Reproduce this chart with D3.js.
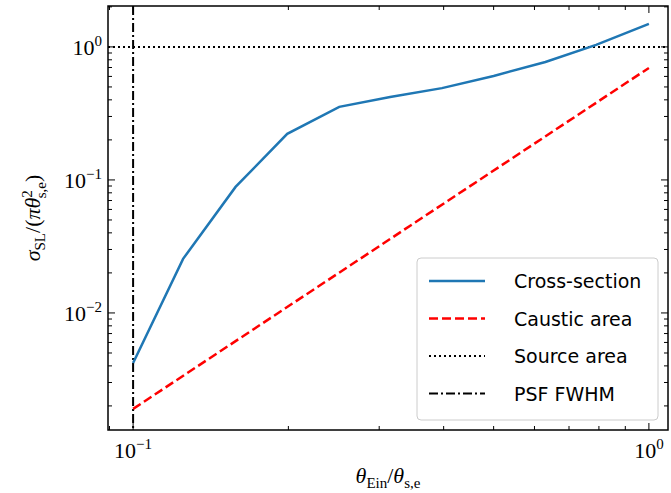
<!DOCTYPE html>
<html><head><meta charset="utf-8">
<script src="https://cdn.jsdelivr.net/npm/d3@7"></script>
<style>body{margin:0;background:#fff}</style>
</head><body><div id="chart"></div>
<script>
const width = 671, height = 493
const margin = { left: 108, right: 3, top: 6, bottom: 63 }
const crossX = [0.1, 0.125, 0.158, 0.199, 0.251, 0.315, 0.397, 0.5, 0.63, 0.79, 1.0]
const crossY = [0.0042, 0.0255, 0.0886, 0.222, 0.354, 0.42, 0.49, 0.605, 0.77, 1.035, 1.49]
const causticX = [0.1, 1.0]
const causticY = [0.0019, 0.695]
const sourceArea = 1.0
const psfFwhm = 0.1
const legendLabels = ["Cross-section", "Caustic area", "Source area", "PSF FWHM"]

const x = d3.scaleLog([0.0894, 1.089], [margin.left, width - margin.right])
const y = d3.scaleLog([10 ** -2.88, 2.03], [height - margin.bottom, margin.top])

const svg = d3.select("#chart").append("svg").attr("width", width).attr("height", height)
const serif = "'Liberation Serif', 'DejaVu Serif', serif"

svg.append("defs").append("clipPath").attr("id", "clip")
  .append("rect").attr("x", margin.left).attr("y", margin.top)
  .attr("width", width - margin.left - margin.right).attr("height", height - margin.top - margin.bottom)

const plot = svg.append("g").attr("clip-path", "url(#clip)")
const line = d3.line().x((d) => x(d[0])).y((d) => y(d[1]))

plot.append("line").attr("x1", margin.left).attr("x2", width - margin.right)
  .attr("y1", y(sourceArea)).attr("y2", y(sourceArea))
  .style("stroke", "#000").style("stroke-width", 2).style("stroke-dasharray", "2,3")
plot.append("line").attr("x1", x(psfFwhm)).attr("x2", x(psfFwhm))
  .attr("y1", margin.top).attr("y2", height - margin.bottom)
  .style("stroke", "#000").style("stroke-width", 2).style("stroke-dasharray", "9,3,2,3")
plot.append("path").datum(causticX.map((v, i) => [v, causticY[i]])).attr("d", line)
  .style("fill", "none").style("stroke", "#ff0000").style("stroke-width", 2.5).style("stroke-dasharray", "9,4")
plot.append("path").datum(crossX.map((v, i) => [v, crossY[i]])).attr("d", line)
  .style("fill", "none").style("stroke", "#1f77b4").style("stroke-width", 2.5)

// ticks on all four sides, pointing inward
const xMajor = [0.1, 1]
const xMinor = [0.09, 0.2, 0.3, 0.4, 0.5, 0.6, 0.7, 0.8, 0.9]
const yMajor = [0.01, 0.1, 1]
const yMinor = []
for (const e of [-3, -2, -1, 0]) for (let k = 2; k <= 9; k++) {
  const v = k * 10 ** e
  if (v > y.domain()[0] && v < y.domain()[1]) yMinor.push(v)
}
const ticks = svg.append("g").style("stroke", "#000").style("stroke-width", 1)
const b = height - margin.bottom, t = margin.top, l = margin.left, r = width - margin.right
xMajor.concat(xMinor).forEach((v) => {
  const len = xMajor.includes(v) ? 7 : 4
  ticks.append("line").attr("x1", x(v)).attr("x2", x(v)).attr("y1", b).attr("y2", b - len)
  ticks.append("line").attr("x1", x(v)).attr("x2", x(v)).attr("y1", t).attr("y2", t + len)
})
yMajor.concat(yMinor).forEach((v) => {
  const len = yMajor.includes(v) ? 7 : 4
  ticks.append("line").attr("y1", y(v)).attr("y2", y(v)).attr("x1", l).attr("x2", l + len)
  ticks.append("line").attr("y1", y(v)).attr("y2", y(v)).attr("x1", r).attr("x2", r - len)
})
svg.append("rect").attr("x", l).attr("y", t).attr("width", r - l).attr("height", b - t)
  .style("fill", "none").style("stroke", "#000").style("stroke-width", 1.5)

function powLabel(g, px, py, exp, anchor) {
  const tx = g.append("text").attr("x", px).attr("y", py).attr("text-anchor", anchor)
    .style("font-family", serif).style("font-size", "22px")
  tx.append("tspan").text("10")
  tx.append("tspan").attr("dy", -9).style("font-size", "15px").text(exp)
}
xMajor.forEach((v) => powLabel(svg, x(v), b + 28, v === 1 ? "0" : "\u22121", "middle"))
yMajor.forEach((v) => powLabel(svg, l - 6, y(v) + 8, v === 1 ? "0" : "\u2212" + Math.round(-Math.log10(v)), "end"))

// axis titles
const xt = svg.append("text").attr("x", (l + r) / 2).attr("y", 483).attr("text-anchor", "middle")
  .style("font-family", serif).style("font-size", "22px").style("font-style", "italic")
xt.append("tspan").text("θ")
xt.append("tspan").attr("dy", 5).style("font-size", "15px").style("font-style", "normal").text("Ein")
xt.append("tspan").attr("dy", -5).style("font-style", "normal").text("/")
xt.append("tspan").text("θ")
xt.append("tspan").attr("dy", 5).style("font-size", "15px").style("font-style", "normal").text("s,e")

const yt = svg.append("text").attr("transform", `translate(40,${(t + b) / 2}) rotate(-90)`)
  .attr("text-anchor", "middle").style("font-family", serif).style("font-size", "22px").style("font-style", "italic")
yt.append("tspan").text("σ")
yt.append("tspan").attr("dy", 5).style("font-size", "15px").style("font-style", "normal").text("SL")
yt.append("tspan").attr("dy", -5).style("font-style", "normal").text("/(")
yt.append("tspan").text("πθ")
yt.append("tspan").attr("dy", -8).style("font-size", "15px").style("font-style", "normal").text("2")
yt.append("tspan").attr("dx", -8).attr("dy", 14).style("font-size", "15px").style("font-style", "normal").text("s,e")
yt.append("tspan").attr("dy", -6).style("font-style", "normal").text(")")

// legend
const lg = svg.append("g").attr("transform", "translate(417,258)")
lg.append("rect").attr("width", 241).attr("height", 162).attr("rx", 4)
  .style("fill", "#fff").style("fill-opacity", 0.8).style("stroke", "#ccc")
const styles = [
  { c: "#1f77b4", d: "none", w: 2.5 },
  { c: "#ff0000", d: "9,4", w: 2.5 },
  { c: "#000", d: "2,3", w: 2 },
  { c: "#000", d: "9,3,2,3", w: 2 },
]
legendLabels.forEach((name, i) => {
  const yy = 23 + i * 37.5
  lg.append("line").attr("x1", 12).attr("x2", 68).attr("y1", yy).attr("y2", yy)
    .style("stroke", styles[i].c).style("stroke-width", styles[i].w).style("stroke-dasharray", styles[i].d)
  lg.append("text").attr("x", 97).attr("y", yy + 7).text(name)
    .style("font-family", "'DejaVu Sans', sans-serif").style("font-size", "19px")
})
</script></body></html>
